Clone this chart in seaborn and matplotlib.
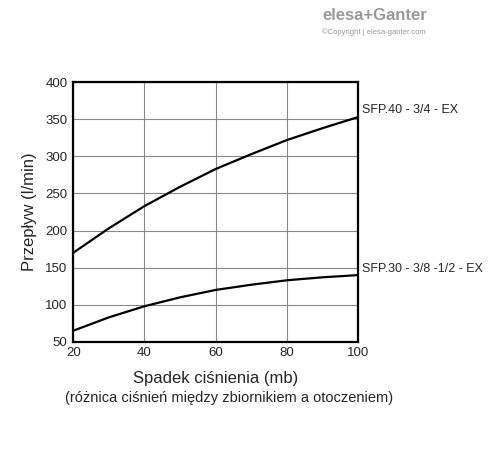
import numpy as np
import pandas as pd
import matplotlib
matplotlib.use("Agg")
import matplotlib.pyplot as plt
import seaborn as sns

# data
spadek = [20, 30, 40, 50, 60, 70, 80, 90, 100]
sfp40 = [170, 203, 233, 259, 283, 303, 322, 338, 353]
sfp30 = [65, 83, 98, 110, 120, 127, 133, 137, 140]
labels = ["SFP.40 - 3/4 - EX", "SFP.30 - 3/8 -1/2 - EX"]

df = pd.DataFrame({"x": spadek * 2, "y": sfp40 + sfp30,
                   "s": [labels[0]] * len(spadek) + [labels[1]] * len(spadek)})

sns.set_style("white")
plt.rcParams['font.family'] = ['Liberation Sans', 'DejaVu Sans']

fig = plt.figure(figsize=(4.88, 4.54), dpi=100)
ax = fig.add_axes([0.150, 0.247, 0.584, 0.572])
sns.lineplot(data=df, x="x", y="y", units="s", estimator=None, color="black",
             lw=1.6, ax=ax, legend=False)

ax.set_xlim(20, 100)
ax.set_ylim(50, 400)
ax.set_xticks(range(20, 101, 20))
ax.set_yticks(range(50, 401, 50))
ax.grid(True, color="#888888", lw=0.8)
for sp in ax.spines.values():
    sp.set_visible(True)
    sp.set_color("black")
    sp.set_linewidth(1.6)
ax.tick_params(labelsize=9.5, length=0, pad=4)
ax.set_xlabel("Spadek ciśnienia (mb)", fontsize=12, labelpad=8)
ax.set_ylabel("Przepływ (l/min)", fontsize=12, labelpad=6)

ax.text(101, sfp40[-1] + 10, labels[0], fontsize=9, va="center", clip_on=False)
ax.text(101, sfp30[-1] + 8, labels[1], fontsize=9, va="center", clip_on=False)

fig.text(0.47, 0.115, "(różnica ciśnień między zbiornikiem a otoczeniem)",
         ha="center", fontsize=10.5)

fig.text(0.66, 0.955, "elesa+Ganter", fontsize=12, fontweight="bold", color="#9a9a9a")
fig.text(0.66, 0.925, "©Copyright | elesa-ganter.com", fontsize=5.5, color="#9a9a9a")

fig.savefig("out.png", dpi=100)
